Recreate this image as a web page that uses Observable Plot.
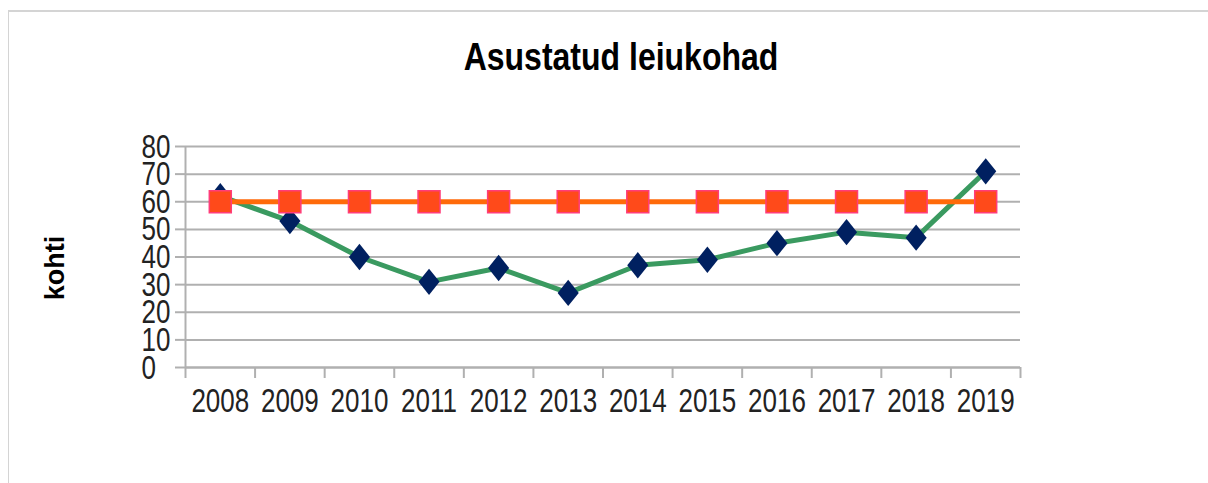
<!DOCTYPE html>
<html>
<head>
<meta charset="utf-8">
<script src="https://cdn.jsdelivr.net/npm/d3@7"></script>
<script src="https://cdn.jsdelivr.net/npm/@observablehq/plot@0.6"></script>
<style>
  html, body { margin: 0; padding: 0; background: #fff; }
  body { width: 1208px; height: 483px; position: relative; overflow: hidden; }
  #frame { position: absolute; left: 8px; top: 10px; right: -2px; bottom: -2px;
           border-top: 2px solid #d4d4d4; border-left: 1px solid #d4d4d4; pointer-events: none; }
  #title { height: 100px; box-sizing: border-box; padding-top: 14px; padding-left: 34px;
           display: flex; align-items: center; justify-content: center;
           font-family: "Liberation Sans", Arial, sans-serif; }
  #title span { display: inline-block; font-weight: bold; font-size: 32px; color: #000; transform: scaleY(1.22); }
  #ylabel { position: absolute; left: 55px; top: 268px; transform: translate(-50%, -50%) rotate(-90deg);
            font-family: "Liberation Sans", Arial, sans-serif; font-weight: bold; font-size: 27px; color: #000; }
</style>
</head>
<body>
<div id="frame"></div>
<div id="title"><span>Asustatud leiukohad</span></div>
<div id="ylabel">kohti</div>
<div id="chart"></div>
<script>
const years = [2008, 2009, 2010, 2011, 2012, 2013, 2014, 2015, 2016, 2017, 2018, 2019];
const found = [62, 53, 40, 31, 36, 27, 37, 39, 45, 49, 47, 71];
const target = [60, 60, 60, 60, 60, 60, 60, 60, 60, 60, 60, 60];
const yTicks = [0, 10, 20, 30, 40, 50, 60, 70, 80];

const foundData = years.map((y, i) => ({year: y, value: found[i]}));
const targetData = years.map((y, i) => ({year: y, value: target[i]}));
const bounds = [years[0] - 0.5, ...years.map(y => y + 0.5)];

const diamond = {
  draw(context, size) {
    const h = Math.sqrt(size) * 0.62;
    const w = h * 0.8;
    context.moveTo(0, -h);
    context.lineTo(w, 0);
    context.lineTo(0, h);
    context.lineTo(-w, 0);
    context.closePath();
  }
};

const tickFont = '"Liberation Sans", Arial, sans-serif';

const chart = Plot.plot({
  width: 1208,
  height: 383,
  marginTop: 46,
  marginBottom: 116,
  marginLeft: 185,
  marginRight: 188,
  style: { fontFamily: tickFont, fontSize: "26px", color: "#222", background: "transparent", overflow: "visible" },
  x: { type: "linear", domain: [years[0] - 0.5, years[years.length - 1] + 0.5] },
  y: { domain: [0, 80] },
  marks: [
    Plot.gridY(yTicks, { stroke: "#b0b0b0", strokeOpacity: 1, strokeWidth: 2 }),
    Plot.axisY(yTicks, { tickSize: 10, tickPadding: 34, textAnchor: "start", stroke: "#b0b0b0", strokeWidth: 2, fill: "#222", label: null, fontSize: 26 }),
    Plot.axisX(bounds, { tickSize: 11, tickFormat: () => "", stroke: "#b0b0b0", strokeWidth: 2, label: null }),
    Plot.axisX(years, { tickSize: 0, tickPadding: 23, tickFormat: d => String(d), fill: "#222", label: null, fontSize: 26 }),
    Plot.ruleX([bounds[0]], { y1: 0, y2: 80, stroke: "#b0b0b0", strokeWidth: 2 }),
    Plot.ruleY([0], { stroke: "#b0b0b0", strokeWidth: 2 }),
    Plot.line(foundData, { x: "year", y: "value", stroke: "#3a9a60", strokeWidth: 5 }),
    Plot.dot(foundData, { x: "year", y: "value", symbol: diamond, r: 12, fill: "#002060", stroke: "none" }),
    Plot.line(targetData, { x: "year", y: "value", stroke: "#ff6a0a", strokeWidth: 5 }),
    Plot.dot(targetData, { x: "year", y: "value", symbol: "square", r: 12.4, fill: "#ff4a1a", stroke: "#ff3d7a", strokeWidth: 1.5 })
  ]
});
document.getElementById("chart").appendChild(chart);

// stretch tick labels vertically (condensed look of the original)
chart.querySelectorAll("text").forEach(t => {
  if (!t.textContent) return;
  const b = t.getBBox();
  const cx = b.x + b.width / 2, cy = b.y + b.height / 2;
  const tr = t.getAttribute("transform") || "";
  t.setAttribute("transform", `${tr} translate(${cx},${cy}) scale(1,1.3) translate(${-cx},${-cy})`);
});
</script>
</body>
</html>
